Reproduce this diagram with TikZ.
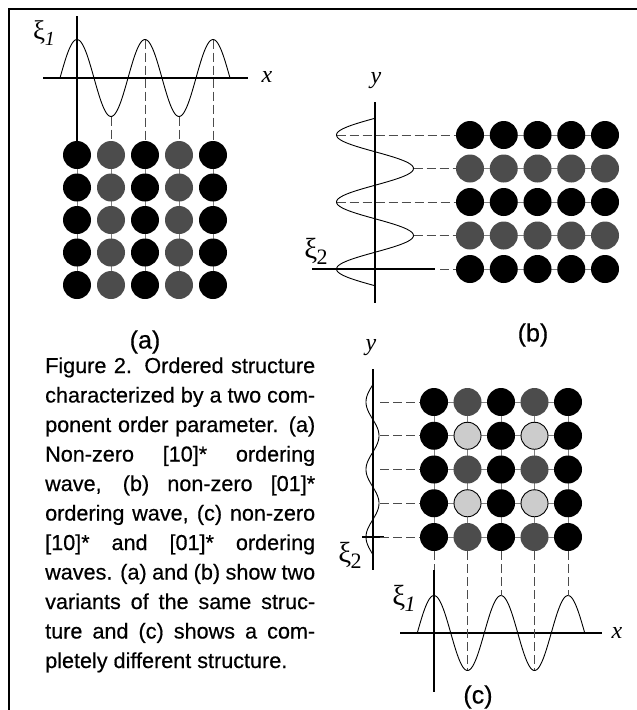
\documentclass[tikz,border=0pt]{standalone}
\usepackage{fontspec}
\setmainfont{Liberation Sans}[FakeBold=0.5]
\newfontfamily\tms{Liberation Serif}
\usetikzlibrary{backgrounds}
\definecolor{dgray}{gray}{0.30}
\definecolor{lgray}{gray}{0.80}
\definecolor{lnk}{gray}{0.50}
\newcommand\xilab[3]{{\tms\fontsize{#1}{#1}\selectfont ξ\kern-0.5pt\raisebox{-0.2em}{\fontsize{#2}{#2}\selectfont #3}}}
\begin{document}
\begin{tikzpicture}[x=1pt,y=-1pt,
  atomb/.style={circle,fill=black,minimum size=28pt,inner sep=0pt},
  atomd/.style={circle,fill=dgray,minimum size=28pt,inner sep=0pt},
  atoml/.style={circle,fill=lgray,draw=black,line width=0.9pt,minimum size=27pt,inner sep=0pt},
  axisline/.style={line width=1.4pt},
  waveline/.style={line width=0.9pt},
  guide/.style={line width=0.6pt,black!70,dash pattern=on 9pt off 4pt},
  lnkline/.style={line width=0.8pt,lnk},
  lbl/.style={inner sep=0pt,font=\tms\itshape\fontsize{24}{24}\selectfont},
  captext/.style={inner sep=0pt,anchor=base west,font=\fontsize{21.6}{29.5}\selectfont},
  panel/.style={inner sep=0pt,font=\fontsize{25}{25}\selectfont}]
\useasboundingbox (0,0) rectangle (637,710);
% frame
\draw[line width=1.3pt] (9,710) -- (9,9) -- (637,9);

% ---------------- panel (a)
\foreach \i/\s in {1/atomb,2/atomd,3/atomb,4/atomd,5/atomb}
  \foreach \j in {1,...,5}
    \node[\s] (a-\i-\j) at ({77+34*(\i-1)},{155+32.5*(\j-1)}) {};
\begin{pgfonlayer}{background}
\foreach \i in {1,...,5} \draw[lnkline] (a-\i-1.center) -- (a-\i-5.center);
\end{pgfonlayer}
\coordinate (ya-top) at (77,16);
\coordinate (xa-l) at (43,78);
\coordinate (xa-r) at (248,78);
\draw[axisline] (ya-top) -- (a-1-1.north);
\draw[axisline] (xa-l) -- (xa-r);
\draw[waveline] plot[domain=60:230,samples=140] (\x,{78-38.5*cos((\x-77)/68*360)});
\coordinate (wa2) at (111,116.5);
\coordinate (wa3) at (145,39.5);
\coordinate (wa4) at (179,116.5);
\coordinate (wa5) at (213,39.5);
\foreach \i in {2,...,5} \draw[guide] (wa\i) -- (a-\i-1.north);
\node[lbl] (xlab-a) at (267,77) {x};
\node[inner sep=0pt] (xi-a) at (44,33) {\xilab{27}{20}{\itshape 1}};
\node[panel] (lab-a) at (145,342) {(a)};

% ---------------- panel (b)
\foreach \j/\s in {1/atomb,2/atomd,3/atomb,4/atomd,5/atomb}
  \foreach \i in {1,...,5}
    \node[\s] (b-\i-\j) at ({470+33.75*(\i-1)},{135+33.5*(\j-1)}) {};
\begin{pgfonlayer}{background}
\foreach \j in {1,...,5} \draw[lnkline] (b-1-\j.center) -- (b-5-\j.center);
\end{pgfonlayer}
\coordinate (yb-top) at (375,102);
\coordinate (yb-bot) at (375,303);
\coordinate (xb-l) at (312,269);
\coordinate (xb-r) at (435,269);
\draw[axisline] (yb-top) -- (yb-bot);
\draw[axisline] (xb-l) -- (xb-r);
\draw[waveline] plot[domain=118.25:285.75,samples=140] ({375-38.5*cos((\x-269)/67*360)},\x);
\coordinate (wb1) at (336.5,135);
\coordinate (wb2) at (413.5,168.5);
\coordinate (wb3) at (336.5,202);
\coordinate (wb4) at (413.5,235.5);
\coordinate (wb5) at (440,269);
\foreach \j in {1,...,5} \draw[guide] (wb\j) -- (b-1-\j.west);
\node[lbl] (ylab-b) at (376,81) {y};
\node[inner sep=0pt] (xi-b) at (316,251) {\xilab{29}{22}{2}};
\node[panel] (lab-b) at (533,335) {(b)};

% ---------------- panel (c)
\foreach \j in {1,3,5}
  \foreach \i/\s in {1/atomb,2/atomd,3/atomb,4/atomd,5/atomb}
    \node[\s] (c-\i-\j) at ({434+33.5*(\i-1)},{402+33.75*(\j-1)}) {};
\foreach \j in {2,4}
  \foreach \i/\s in {1/atomb,2/atoml,3/atomb,4/atoml,5/atomb}
    \node[\s] (c-\i-\j) at ({434+33.5*(\i-1)},{402+33.75*(\j-1)}) {};
\begin{pgfonlayer}{background}
\foreach \j in {1,...,5} \draw[lnkline] (c-1-\j.center) -- (c-5-\j.center);
\foreach \i in {1,...,5} \draw[lnkline] (c-\i-1.center) -- (c-\i-5.center);
\end{pgfonlayer}
% left small wave
\coordinate (yc-top) at (373,369);
\coordinate (yc-bot) at (373,570);
\coordinate (xc-l) at (362,537);
\coordinate (xc-r) at (384,537);
\draw[axisline] (yc-top) -- (yc-bot);
\draw[axisline] (xc-l) -- (xc-r);
\draw[waveline] plot[domain=385:554,samples=140] ({372.5-6.5*cos((\x-537)/67.5*360)},\x);
\foreach \j in {1,...,5} {
  \coordinate (wc\j) at (380,{402+33.75*(\j-1)});
  \draw[guide] (wc\j) -- (c-1-\j.west);
}
\node[lbl] (ylab-c) at (371,348) {y};
\node[inner sep=0pt] (xi-c2) at (350,555) {\xilab{29}{22}{2}};
% bottom wave
\coordinate (xcb-l) at (400,633);
\coordinate (xcb-r) at (602,633);
\coordinate (ycb-top) at (434,570);
\coordinate (ycb-bot) at (434,692);
\draw[axisline] (ycb-top) -- (ycb-bot);
\draw[axisline] (xcb-l) -- (xcb-r);
\draw[waveline] plot[domain=417.25:584.75,samples=140] (\x,{633-37.5*cos((\x-434)/67*360)});
\coordinate (wcb1) at (434,570);
\coordinate (wcb2) at (467.5,670);
\coordinate (wcb3) at (501,596);
\coordinate (wcb4) at (534.5,670);
\coordinate (wcb5) at (568,596);
\foreach \i in {1,...,5} \draw[guide] (c-\i-5.south) -- (wcb\i);
\node[lbl] (xlab-c) at (617,633) {x};
\node[inner sep=0pt] (xi-c1) at (404,598) {\xilab{29}{22}{\itshape 1}};
\node[panel] (lab-c) at (478,697) {(c)};

% ---------------- caption
\node[captext] (cap1) at (45,373.0) {\makebox[270pt][s]{Figure 2. Ordered structure}};
\node[captext] (cap2) at (45,402.5) {\makebox[270pt][s]{characterized by a two com-}};
\node[captext] (cap3) at (45,432.0) {\makebox[270pt][s]{ponent order parameter. (a)}};
\node[captext] (cap4) at (45,461.5) {\makebox[270pt][s]{Non-zero [10]* ordering}};
\node[captext] (cap5) at (45,491.0) {\makebox[270pt][s]{wave, (b) non-zero [01]*}};
\node[captext] (cap6) at (45,520.5) {\makebox[270pt][s]{ordering wave, (c) non-zero}};
\node[captext] (cap7) at (45,550.0) {\makebox[270pt][s]{[10]* and [01]* ordering}};
\node[captext] (cap8) at (45,579.5) {\makebox[270pt][s]{waves. (a) and (b) show two}};
\node[captext] (cap9) at (45,609.0) {\makebox[270pt][s]{variants of the same struc-}};
\node[captext] (cap10) at (45,638.5) {\makebox[270pt][s]{ture and (c) shows a com-}};
\node[captext] (cap11) at (45,668.0) {pletely different structure.};
\end{tikzpicture}
\end{document}
